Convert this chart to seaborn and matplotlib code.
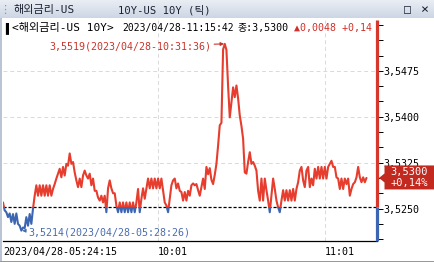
import matplotlib
matplotlib.use("Agg")
import matplotlib.pyplot as plt
import numpy as np
import pandas as pd
import seaborn as sns
from matplotlib.patches import Rectangle, Polygon
from matplotlib.ticker import FixedLocator, MultipleLocator, FuncFormatter
from matplotlib.colors import LinearSegmentedColormap

# ---------------- data ----------------
prices = [
    3.5260, 3.5247, 3.5244, 3.5236, 3.5242, 3.5228, 3.5241, 3.5225, 3.5242, 3.5225,
    3.5222, 3.5214, 3.5219, 3.5218, 3.5236, 3.5222, 3.5241, 3.5225, 3.5250, 3.5271,
    3.5288, 3.5271, 3.5288, 3.5271, 3.5288, 3.5271, 3.5288, 3.5271, 3.5288, 3.5271,
    3.5282, 3.5290, 3.5299, 3.5307, 3.5315, 3.5301, 3.5318, 3.5304, 3.5323, 3.5320,
    3.5340, 3.5323, 3.5326, 3.5309, 3.5296, 3.5285, 3.5299, 3.5285, 3.5304, 3.5312,
    3.5304, 3.5299, 3.5307, 3.5288, 3.5299, 3.5279, 3.5279, 3.5268, 3.5263, 3.5271,
    3.5260, 3.5271, 3.5244, 3.5283, 3.5296, 3.5283, 3.5275, 3.5275, 3.5255, 3.5244,
    3.5260, 3.5244, 3.5260, 3.5244, 3.5260, 3.5244, 3.5260, 3.5244, 3.5260, 3.5244,
    3.5260, 3.5282, 3.5244, 3.5266, 3.5283, 3.5266, 3.5283, 3.5299, 3.5283, 3.5299,
    3.5283, 3.5299, 3.5283, 3.5299, 3.5283, 3.5299, 3.5279, 3.5260, 3.5255, 3.5244,
    3.5266, 3.5288, 3.5296, 3.5299, 3.5283, 3.5291, 3.5279, 3.5277, 3.5263, 3.5277,
    3.5263, 3.5279, 3.5271, 3.5288, 3.5291, 3.5288, 3.5290, 3.5280, 3.5271, 3.5285,
    3.5299, 3.5282, 3.5318, 3.5306, 3.5316, 3.5297, 3.5290, 3.5305, 3.5323, 3.5353,
    3.5386, 3.5390, 3.5510, 3.5519, 3.5509, 3.5450, 3.5399, 3.5424, 3.5448, 3.5432,
    3.5451, 3.5430, 3.5402, 3.5385, 3.5364, 3.5309, 3.5307, 3.5326, 3.5342, 3.5323,
    3.5326, 3.5320, 3.5312, 3.5279, 3.5263, 3.5299, 3.5263, 3.5299, 3.5280, 3.5263,
    3.5244, 3.5271, 3.5299, 3.5282, 3.5263, 3.5252, 3.5244, 3.5263, 3.5280, 3.5263,
    3.5280, 3.5263, 3.5280, 3.5263, 3.5282, 3.5263, 3.5282, 3.5293, 3.5312, 3.5318,
    3.5296, 3.5285, 3.5312, 3.5318, 3.5285, 3.5299, 3.5288, 3.5315, 3.5299, 3.5318,
    3.5299, 3.5318, 3.5299, 3.5318, 3.5299, 3.5318, 3.5323, 3.5328, 3.5318, 3.5318,
    3.5301, 3.5299, 3.5282, 3.5299, 3.5282, 3.5299, 3.5290, 3.5299, 3.5271, 3.5282,
    3.5290, 3.5293, 3.5301, 3.5318, 3.5301, 3.5293, 3.5301, 3.5293, 3.5300,
]
prev_close = 3.5252
close_price = 3.5300
change_pct = "+0,14%"
xtick_pos = [0, 93, 193]
xtick_labels = ["2023/04/28-05:24:15", "10:01", "11:01"]
ytick_major = [3.5250, 3.5325, 3.5400, 3.5475]
peak_label = "3,5519(2023/04/28-10:31:36)"
min_label = "3,5214(2023/04/28-05:28:26)"
title_left = "해외금리-US"
title_right = "10Y-US 10Y (틱)"
info_mark = "▌"
info_name = "<해외금리-US 10Y>"
info_time = "2023/04/28-11:15:42"
info_close = "종:3,5300"
info_change = "▲0,0048 +0,14"

# ---------------- style ----------------
sns.set_style("white")
plt.rcParams["font.family"] = ["DejaVu Sans Mono", "Noto Sans CJK KR", "DejaVu Sans"]
plt.rcParams["axes.unicode_minus"] = False

RED = "#e63d2e"
AXIS_RED = "#d6372a"
BLUE = "#3d66b2"
GRID = "#d9d9d9"
PEAK_C = "#c8352b"
MIN_C = "#4a6cae"
BOX = "#c22a20"
FS = 7.2

W, H = 434, 262
fig = plt.figure(figsize=(W / 100, H / 100), dpi=100, facecolor="white")


def fx(px):
    return px / W


def fy(py):
    return 1 - py / H


# title bar
tb = fig.add_axes([0, fy(18), 1, 18 / H])
grad = np.linspace(0, 1, 32).reshape(-1, 1)
cmap = LinearSegmentedColormap.from_list("tb", ["#e9eef5", "#cdd6e4"])
tb.imshow(grad, aspect="auto", cmap=cmap, extent=[0, 1, 0, 1])
tb.set_axis_off()
fig.text(fx(4.5), fy(10), "⋮", color="#8a96aa", fontsize=8, ha="center", va="center")
fig.text(fx(13), fy(10), title_left, color="#1c2233", fontsize=FS + 0.8, va="center")
fig.text(fx(118), fy(10), title_right, color="#1c2233", fontsize=FS + 0.4, va="center")
fig.text(fx(408), fy(9.5), "□", color="#1c2233", fontsize=8.5, ha="center", va="center")
fig.text(fx(424), fy(9.5), "×", color="#1c2233", fontsize=9.5, ha="center", va="center")

# main axes
ax = fig.add_axes([fx(3), fy(241), (377.5 - 3) / W, (241 - 20) / H])
ax.set_facecolor("white")
df = pd.DataFrame({"tick": np.arange(len(prices)), "price": prices})
sns.lineplot(data=df, x="tick", y="price", ax=ax, color=RED, linewidth=1.5, zorder=3)
sns.lineplot(data=df, x="tick", y="price", ax=ax, color=BLUE, linewidth=1.5, zorder=3)
red_line, blue_line = ax.get_lines()[-2:]

ax.set_xlim(0, 224.6)
ax.set_ylim(3.5197, 3.5558)
x0, x1 = ax.get_xlim()
y0, y1 = ax.get_ylim()
red_line.set_clip_path(Rectangle((x0, prev_close), x1 - x0, y1 - prev_close, transform=ax.transData))
blue_line.set_clip_path(Rectangle((x0, y0), x1 - x0, prev_close - y0, transform=ax.transData))

ax.set_xlabel("")
ax.set_ylabel("")
for s in ["left", "top", "right"]:
    ax.spines[s].set_visible(False)
ax.spines["bottom"].set_color("black")
ax.spines["bottom"].set_linewidth(0.9)

ax.yaxis.tick_right()
ax.yaxis.set_major_locator(FixedLocator(ytick_major))
ax.yaxis.set_minor_locator(MultipleLocator(0.0025))
ax.yaxis.set_major_formatter(FuncFormatter(lambda v, p: f"{v:.4f}".replace(".", ",")))
ax.tick_params(axis="y", which="both", direction="out", length=3.6, width=0.7,
               colors="black", pad=0.6, labelsize=FS, right=True, left=False,
               labelright=True, labelleft=False)

ax.set_xticks(xtick_pos)
ax.set_xticklabels(xtick_labels, ha="left")
ax.tick_params(axis="x", direction="out", length=3, width=0.7, pad=1.5,
               labelsize=FS, colors="black")

for v in ytick_major[1:]:
    ax.axhline(v, color=GRID, lw=0.7, ls=(0, (4, 3)), zorder=1)
for p in xtick_pos[1:]:
    ax.axvline(p, color=GRID, lw=0.7, ls=(0, (4, 3)), zorder=1)

ax.axhline(prev_close, color="black", lw=0.9, ls=(0, (2.5, 1.5)), zorder=2)

ax.vlines(x1, prev_close, y1, color=AXIS_RED, lw=2.3, zorder=6, clip_on=False)
ax.vlines(x1, y0, prev_close, color=BLUE, lw=2.3, zorder=6, clip_on=False)

ipk = int(np.argmax(prices))
imn = int(np.argmin(prices))
ax.annotate(peak_label, xy=(ipk, prices[ipk]), xytext=(-10, -2), textcoords="offset points",
            ha="right", va="center", fontsize=FS, color=PEAK_C, annotation_clip=False,
            arrowprops=dict(arrowstyle="-|>", color=PEAK_C, lw=0.8, mutation_scale=5,
                            shrinkA=0, shrinkB=0.5))
ax.annotate(min_label, xy=(imn, prices[imn]), xytext=(5, -1.5), textcoords="offset points",
            ha="left", va="center", fontsize=FS, color=MIN_C, annotation_clip=False,
            arrowprops=dict(arrowstyle="-|>", color=MIN_C, lw=0.8, mutation_scale=5,
                            shrinkA=0, shrinkB=0.5))

# price box at the right edge
X, Y = ax.transData.transform((x1, close_price))
py = H - Y
verts_px = [(X + 1.5, py), (X + 7, py - 4.5), (X + 7, py - 12.5), (W, py - 12.5),
            (W, py + 11.5), (X + 7, py + 11.5), (X + 7, py + 4.5)]
fig.add_artist(Polygon([(fx(a), fy(b)) for a, b in verts_px], closed=True,
                       transform=fig.transFigure, facecolor=BOX, edgecolor="none", zorder=10))
cx = (X + 7 + W) / 2
fig.text(fx(cx), fy(py - 5.8), f"{close_price:.4f}".replace(".", ","), color="white",
         fontsize=FS + 0.3, ha="center", va="center", zorder=11)
fig.text(fx(cx), fy(py + 5.5), change_pct, color="white",
         fontsize=FS + 0.3, ha="center", va="center", zorder=11)

# info row
fig.text(fx(5), fy(28), info_mark, color="black", fontsize=FS, va="center", zorder=12)
fig.text(fx(12), fy(28), info_name, color="black", fontsize=8.0, va="center", zorder=12)
fig.text(fx(122), fy(28), info_time, color="black", fontsize=7.0, va="center", zorder=12)
fig.text(fx(238), fy(28), info_close, color="black", fontsize=FS, va="center", zorder=12)
fig.text(fx(294), fy(28), info_change, color="#d0302a", fontsize=FS, va="center", zorder=12)

# window borders
fig.add_artist(Rectangle((0, 0), fx(2), fy(18), transform=fig.transFigure,
                         facecolor="#b9c4d5", edgecolor="none", zorder=11))
fig.add_artist(Rectangle((0, 0), 1, 1.5 / H, transform=fig.transFigure,
                         facecolor="#9a9a9a", edgecolor="none", zorder=11))

fig.savefig("out.png", dpi=100)
